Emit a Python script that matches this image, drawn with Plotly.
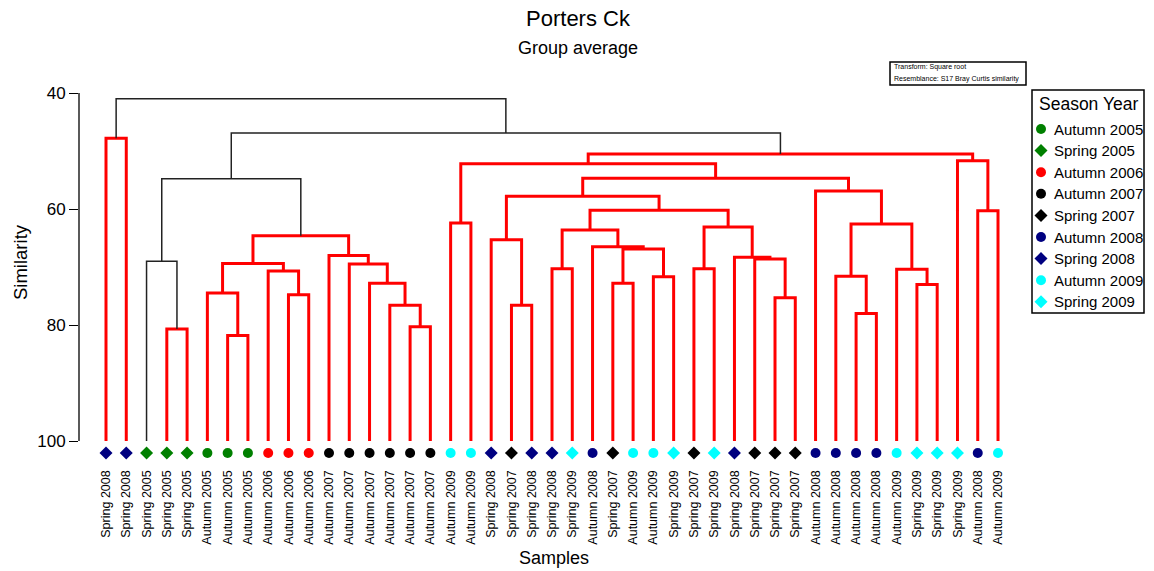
import plotly.graph_objects as go

W, H = 1154, 571

# ---------------- data ----------------
leaf_labels = [
    "Spring 2008", "Spring 2008", "Spring 2005", "Spring 2005", "Spring 2005",
    "Autumn 2005", "Autumn 2005", "Autumn 2005", "Autumn 2006", "Autumn 2006", "Autumn 2006",
    "Autumn 2007", "Autumn 2007", "Autumn 2007", "Autumn 2007", "Autumn 2007", "Autumn 2007",
    "Autumn 2009", "Autumn 2009", "Spring 2008", "Spring 2007", "Spring 2008", "Spring 2008",
    "Spring 2009", "Autumn 2008", "Spring 2007", "Autumn 2009", "Autumn 2009", "Spring 2009",
    "Spring 2007", "Spring 2009", "Spring 2008", "Spring 2007", "Spring 2007", "Spring 2007",
    "Autumn 2008", "Autumn 2008", "Autumn 2008", "Autumn 2008", "Autumn 2009", "Spring 2009",
    "Spring 2009", "Spring 2009", "Autumn 2008", "Autumn 2009",
]

# merges (children: <45 leaf index, >=45 earlier merge 45+k)
merge_left = [0, 3, 2, 6, 5, 9, 8, 49, 15, 14, 13, 12, 11, 52, 47, 17, 20, 19, 22, 25,
              27, 64, 24, 63, 29, 33, 32, 31, 69, 68, 62, 37, 36, 40, 39, 77, 35, 75, 60, 43,
              42, 83, 59, 45]
merge_right = [1, 4, 46, 7, 48, 10, 50, 51, 16, 53, 54, 55, 56, 57, 58, 18, 21, 61, 23, 26,
               28, 65, 66, 67, 30, 34, 70, 71, 72, 73, 74, 38, 76, 41, 78, 79, 80, 81, 82, 44,
               84, 85, 86, 87]
merge_similarity = [47.8, 80.7, 69.0, 81.8, 74.5, 74.8, 70.7, 69.4, 80.3, 76.6, 72.8, 69.5,
                    68.0, 64.6, 54.8, 62.4, 76.6, 65.3, 70.3, 72.8, 71.7, 66.9, 66.5, 63.6,
                    70.3, 75.3, 68.6, 68.3, 63.1, 60.2, 57.8, 78.0, 71.6, 73.0, 70.4, 62.6,
                    56.9, 54.7, 52.2, 60.3, 51.7, 50.5, 46.9, 41.0]
merge_significant = [False, False, True, False, False, False, False, False, False, False,
                     False, False, False, False, True, False, False, False, False, False,
                     False, False, False, False, False, False, False, False, False, False,
                     False, False, False, False, False, False, False, False, False, False,
                     False, False, True, True]

season_years = ["Autumn 2005", "Spring 2005", "Autumn 2006", "Autumn 2007", "Spring 2007",
                "Autumn 2008", "Spring 2008", "Autumn 2009", "Spring 2009"]
y_ticks = [40, 60, 80, 100]

# ---------------- styles ----------------
FONT = "Liberation Sans, Arial, Helvetica, sans-serif"
year_color = {"2005": "#008000", "2006": "#FF0000", "2007": "#000000",
              "2008": "#000080", "2009": "#00FFFF"}
season_symbol = {"Autumn": "circle", "Spring": "diamond"}


def color_of(lbl):
    return year_color[lbl.split()[1]]


def symbol_of(lbl):
    return season_symbol[lbl.split()[0]]


def px_x(p):
    return p / W


def px_y(p):
    return 1 - p / H


# ---------------- tree geometry ----------------
n = len(leaf_labels)
pos = list(range(n)) + [None] * len(merge_similarity)
hgt = [100.0] * n + list(merge_similarity)
for k, (a, b) in enumerate(zip(merge_left, merge_right)):
    pos[n + k] = (pos[a] + pos[b]) / 2.0

red_x, red_y, blk_x, blk_y = [], [], [], []
for k, (a, b) in enumerate(zip(merge_left, merge_right)):
    s = merge_similarity[k]
    xs = [pos[a], pos[a], pos[b], pos[b], None]
    ys = [hgt[a], s, s, hgt[b], None]
    if merge_significant[k]:
        blk_x += xs
        blk_y += ys
    else:
        red_x += xs
        red_y += ys

fig = go.Figure()
fig.add_trace(go.Scatter(x=red_x, y=red_y, mode="lines", cliponaxis=False,
                         line=dict(color="#FF0000", width=3), hoverinfo="skip"))
fig.add_trace(go.Scatter(x=blk_x, y=blk_y, mode="lines", cliponaxis=False,
                         line=dict(color="#222222", width=1.5), hoverinfo="skip"))

# leaf markers sit just below the 100 level
MARK_Y = 102.07
fig.add_trace(go.Scatter(
    x=list(range(n)), y=[MARK_Y] * n, mode="markers", cliponaxis=False,
    marker=dict(color=[color_of(l) for l in leaf_labels],
                symbol=[symbol_of(l) for l in leaf_labels], size=10,
                line=dict(width=0)),
    text=leaf_labels, hoverinfo="text"))

# legend (custom, on its own axes)
fig.add_trace(go.Scatter(
    x=[9] * len(season_years), y=list(range(len(season_years))), mode="markers",
    xaxis="x2", yaxis="y2", cliponaxis=False,
    marker=dict(color=[color_of(l) for l in season_years],
                symbol=[symbol_of(l) for l in season_years], size=10, line=dict(width=0)),
    hoverinfo="skip"))

annotations = []
for i, lbl in enumerate(season_years):
    annotations.append(dict(x=20, y=i, xref="x2", yref="y2", text=lbl, showarrow=False,
                            xanchor="left", yanchor="middle",
                            font=dict(family=FONT, size=15, color="black")))
annotations.append(dict(x=56, y=-1.16, xref="x2", yref="y2", text="Season Year",
                        showarrow=False, xanchor="center", yanchor="middle",
                        font=dict(family=FONT, size=17.5, color="black")))
annotations.append(dict(x=px_x(578), y=px_y(48), xref="paper", yref="paper",
                        text="Group average", showarrow=False, xanchor="center",
                        yanchor="middle", font=dict(family=FONT, size=18, color="black")))
annotations.append(dict(x=px_x(554), y=px_y(558), xref="paper", yref="paper",
                        text="Samples", showarrow=False, xanchor="center",
                        yanchor="middle", font=dict(family=FONT, size=18, color="black")))
annotations.append(dict(x=px_x(20), y=px_y(262), xref="paper", yref="paper",
                        text="Similarity", showarrow=False, textangle=-90,
                        xanchor="center", yanchor="middle",
                        font=dict(family=FONT, size=18.5, color="black")))
annotations.append(dict(x=px_x(892), y=px_y(67.5), xref="paper", yref="paper",
                        text="Transform: Square root", showarrow=False, xanchor="left",
                        yanchor="middle", font=dict(family=FONT, size=7, color="black")))
annotations.append(dict(x=px_x(892), y=px_y(79), xref="paper", yref="paper",
                        text="Resemblance: S17 Bray Curtis similarity", showarrow=False,
                        xanchor="left", yanchor="middle",
                        font=dict(family=FONT, size=7, color="black")))

Y_TOP, Y_BOT = 40, 100
shapes = [
    # y axis line spanning the similarity scale only
    dict(type="line", xref="x domain", yref="y", x0=0, x1=0, y0=Y_TOP, y1=Y_BOT,
         line=dict(color="black", width=1.3)),
    dict(type="rect", xref="paper", yref="paper", x0=px_x(1032), x1=px_x(1144),
         y0=px_y(90), y1=px_y(313), line=dict(color="black", width=1.5)),
    dict(type="rect", xref="paper", yref="paper", x0=px_x(890), x1=px_x(1026),
         y0=px_y(62), y1=px_y(85), line=dict(color="black", width=1.5)),
]

x_left_px, x_right_px, step_px, first_px = 79, 1030, 20.273, 106
y_top_px, unit_px = 93, 5.8
y_low = 103.5
y_bot_px = y_top_px + (y_low - Y_TOP) * unit_px

fig.update_layout(
    width=W, height=H, autosize=False,
    margin=dict(l=0, r=0, t=0, b=0, pad=0, autoexpand=False),
    paper_bgcolor="white", plot_bgcolor="white",
    showlegend=False,
    font=dict(family=FONT, color="black"),
    title=dict(text="Porters Ck", x=px_x(578), xanchor="center", xref="container",
               y=px_y(18), yanchor="middle", yref="container",
               font=dict(family=FONT, size=22, color="black")),
    xaxis=dict(domain=[px_x(x_left_px), px_x(x_right_px)],
               range=[(x_left_px - first_px) / step_px, (x_right_px - first_px) / step_px],
               tickmode="array", tickvals=list(range(n)), ticktext=leaf_labels,
               tickangle=-90, ticks="outside", ticklen=3, tickcolor="rgba(0,0,0,0)",
               tickfont=dict(family=FONT, size=12.5, color="black"),
               showline=False, showgrid=False, zeroline=False, anchor="y",
               automargin=False),
    yaxis=dict(domain=[px_y(y_bot_px), px_y(y_top_px)], range=[y_low, Y_TOP],
               tickmode="array", tickvals=y_ticks, ticks="outside", ticklen=9,
               tickwidth=1.3, tickcolor="black",
               tickfont=dict(family=FONT, size=17, color="black"),
               showline=False, showgrid=False, zeroline=False, anchor="x",
               automargin=False),
    xaxis2=dict(domain=[px_x(1032), px_x(1144)], range=[0, 112], visible=False,
                anchor="y2", fixedrange=True, automargin=False),
    yaxis2=dict(domain=[px_y(313), px_y(90)],
                range=[(313 - 129) / 21.6, (90 - 129) / 21.6], visible=False,
                anchor="x2", fixedrange=True, automargin=False),
    annotations=annotations,
    shapes=shapes,
)

fig.write_html("out.html")
